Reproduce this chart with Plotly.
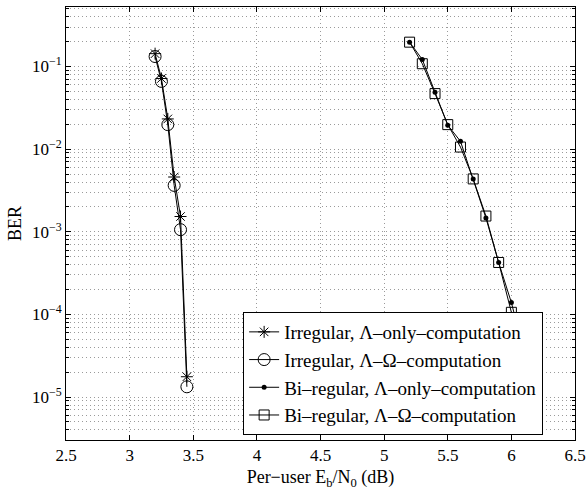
import plotly.graph_objects as go

# Irregular curves
irr_x = [3.2, 3.25, 3.3, 3.35, 3.4, 3.45]
irr_lambda_only = [0.143, 0.0716, 0.0232, 0.0046, 0.00153, 1.76e-5]
irr_lambda_omega = [0.132, 0.066, 0.0198, 0.00364, 0.00106, 1.33e-5]

# Bi-regular curves
bi_x = [5.2, 5.3, 5.4, 5.5, 5.6, 5.7, 5.8, 5.9, 6.0, 6.1]
bi_lambda_only = [0.197, 0.1216, 0.0489, 0.0195, 0.01245, 0.00436, 0.00147, 4.25e-4, 1.39e-4, 3.5e-5]
bi_lambda_omega = [0.197, 0.108, 0.047, 0.0198, 0.0106, 0.00436, 0.00155, 4.25e-4, 1.06e-4, 2.8e-5]

x_ticks = [2.5, 3, 3.5, 4, 4.5, 5, 5.5, 6, 6.5]
y_tickvals = [1e-1, 1e-2, 1e-3, 1e-4, 1e-5]
y_ticktext = ["10<sup>−1</sup>", "10<sup>−2</sup>", "10<sup>−3</sup>", "10<sup>−4</sup>", "10<sup>−5</sup>"]

names = [
    "Irregular, Λ–only–computation",
    "Irregular, Λ–Ω–computation",
    "Bi–regular, Λ–only–computation",
    "Bi–regular, Λ–Ω–computation",
]

FONT = "Liberation Serif"
GRIDC = "#9a9a9a"
DASH = "1px,3px"
fig = go.Figure()
line = dict(color="black", width=1)
fig.add_trace(go.Scatter(x=irr_x, y=irr_lambda_only, mode="lines+markers", name=names[0], line=line,
                         marker=dict(symbol="asterisk-open", size=10, color="black", line=dict(width=1, color="black"))))
fig.add_trace(go.Scatter(x=irr_x, y=irr_lambda_omega, mode="lines+markers", name=names[1], line=line,
                         marker=dict(symbol="circle-open", size=12, color="black", line=dict(width=1, color="black"))))
fig.add_trace(go.Scatter(x=bi_x, y=bi_lambda_only, mode="lines+markers", name=names[2], line=line,
                         marker=dict(symbol="circle", size=5, color="black")))
fig.add_trace(go.Scatter(x=bi_x, y=bi_lambda_omega, mode="lines+markers", name=names[3], line=line,
                         marker=dict(symbol="square-open", size=10, color="black", line=dict(width=1, color="black"))))

grid = dict(showgrid=True, gridcolor=GRIDC, griddash=DASH, gridwidth=1)
fig.update_xaxes(range=[2.5, 6.5], tickvals=x_ticks, ticktext=[str(v) for v in x_ticks],
                 ticks="inside", ticklen=5, tickcolor="black", showline=True, linecolor="black", linewidth=1,
                 mirror="ticks", zeroline=False, tickfont=dict(family=FONT, size=17, color="black"),
                 automargin=False,
                 title=dict(text="Per−user E<sub>b</sub>/N<sub>0</sub> (dB)", font=dict(family=FONT, size=18, color="black"), standoff=8),
                 **grid)
fig.update_yaxes(type="log", range=[-5.52, -0.28], tickvals=y_tickvals, ticktext=y_ticktext,
                 ticks="inside", ticklen=5, tickcolor="black", showline=True, linecolor="black", linewidth=1,
                 mirror="ticks", tickfont=dict(family=FONT, size=17, color="black"),
                 automargin=False,
                 title=dict(text="BER", font=dict(family=FONT, size=18, color="black"), standoff=5),
                 minor=dict(dtick="D1", showgrid=True, gridcolor=GRIDC, griddash=DASH, gridwidth=1,
                            ticks="inside", ticklen=3, tickcolor="black"),
                 **grid)
fig.update_layout(
    width=587, height=490,
    margin=dict(l=66, r=12, t=7, b=50),
    plot_bgcolor="white", paper_bgcolor="white",
    font=dict(family=FONT, size=17, color="black"),
    showlegend=True,
    legend=dict(x=0.348, y=0.0115, xanchor="left", yanchor="bottom", bgcolor="white",
                bordercolor="black", borderwidth=1, font=dict(family=FONT, size=19, color="black"),
                tracegroupgap=0, itemwidth=30),
)
fig.write_html("out.html", config={"displayModeBar": False},
               post_script="document.body.style.margin='0';")
